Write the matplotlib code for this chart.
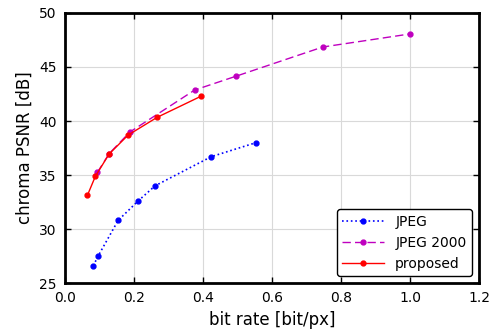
import matplotlib
matplotlib.use("Agg")
import matplotlib.pyplot as plt

jpeg_x = [0.082, 0.096, 0.154, 0.212, 0.261, 0.424, 0.554]
jpeg_y = [26.6, 27.5, 30.8, 32.6, 34.0, 36.7, 38.0]
j2k_x = [0.094, 0.128, 0.188, 0.376, 0.495, 0.747, 1.0]
j2k_y = [35.25, 36.98, 38.98, 42.87, 44.14, 46.85, 48.06]
prop_x = [0.065, 0.088, 0.128, 0.183, 0.267, 0.394]
prop_y = [33.12, 34.88, 36.95, 38.7, 40.34, 42.29]

fig = plt.figure(figsize=(5, 3.33), dpi=100)
ax = fig.add_axes([0.13, 0.15, 0.828, 0.811])
ax.plot(jpeg_x, jpeg_y, color='#0000ff', linestyle=':', marker='o', markersize=3.5, lw=1.2, label='JPEG')
ax.plot(j2k_x, j2k_y, color='#bf00bf', linestyle=(0, (6, 3)), marker='o', markersize=3.5, lw=1.0, label='JPEG 2000')
ax.plot(prop_x, prop_y, color='#ff0000', linestyle='-', marker='o', markersize=3.5, lw=1.0, label='proposed')
ax.set_xlim(0, 1.2)
ax.set_ylim(25, 50)
ax.set_xticks([0.0, 0.2, 0.4, 0.6, 0.8, 1.0, 1.2])
ax.set_yticks([25, 30, 35, 40, 45, 50])
ax.grid(True, color='#d9d9d9', lw=0.8)
ax.set_axisbelow(True)
for s in ax.spines.values():
    s.set_linewidth(2)
ax.tick_params(direction='in', top=True, right=True, length=4, width=1, labelsize=10, pad=6)
ax.set_xlabel('bit rate [bit/px]', fontsize=12)
ax.set_ylabel('chroma PSNR [dB]', fontsize=12)
leg = ax.legend(loc='lower right', fontsize=10, fancybox=True, framealpha=1, edgecolor='black', handlelength=3)
leg.get_frame().set_linewidth(1)
fig.savefig('out.png', dpi=100)
